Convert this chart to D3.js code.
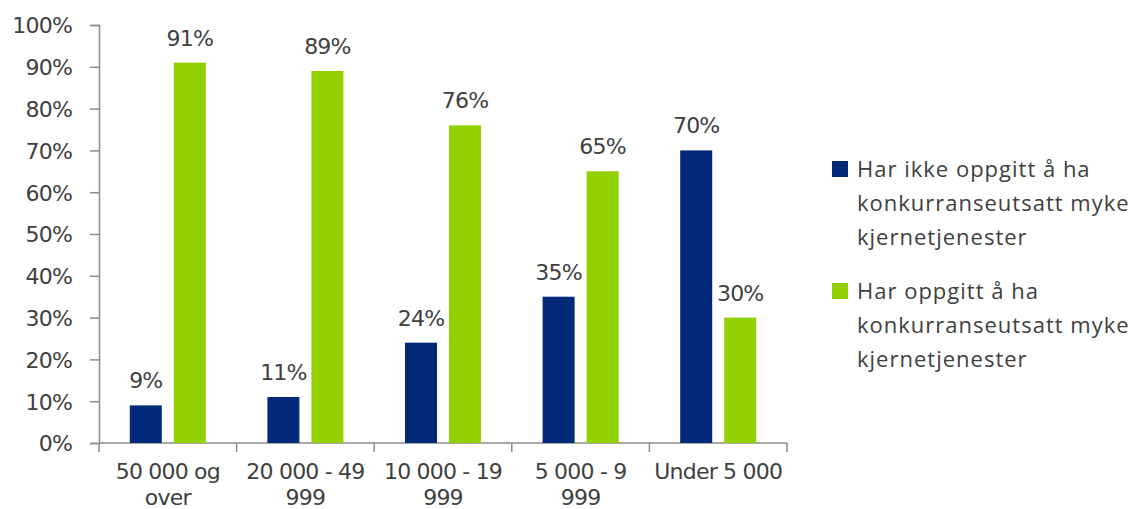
<!DOCTYPE html>
<html>
<head>
<meta charset="utf-8">
<script src="https://cdn.jsdelivr.net/npm/d3@7"></script>
<style>
  html, body { margin: 0; padding: 0; background: #fff; }
  #chart { width: 1141px; height: 509px; }
  .axis path, .axis line { stroke: #8c8c8c; stroke-width: 1.5; }
  .axis text { fill: #404040; font-family: "DejaVu Sans", Verdana, sans-serif; font-size: 22px; letter-spacing: -0.8px; }
  .val { fill: #404040; font-family: "DejaVu Sans", Verdana, sans-serif; font-size: 22px; letter-spacing: -0.8px; }
  .leg { fill: #404040; font-family: "Open Sans", "Liberation Sans", sans-serif; font-size: 22px; letter-spacing: 1px; }
</style>
</head>
<body>
<div id="chart"></div>
<script>
// kategorier og verdier (lest av bildet)
const categories = [["50 000 og", "over"], ["20 000 - 49", "999"], ["10 000 - 19", "999"], ["5 000 - 9", "999"], ["Under 5 000"]];
const seriesNames = [
  ["Har ikke oppgitt å ha", "konkurranseutsatt myke", "kjernetjenester"],
  ["Har oppgitt å ha", "konkurranseutsatt myke", "kjernetjenester"]
];
const notStated = [9, 11, 24, 35, 70];
const stated = [91, 89, 76, 65, 30];
const yTicks = [0, 10, 20, 30, 40, 50, 60, 70, 80, 90, 100];
const colors = ["#002a78", "#92d000"];

(() => {
  const W = 1141, H = 509;
  const margin = { top: 25, left: 99, right: 354, bottom: 66 };
  const width = W - margin.left - margin.right;
  const height = H - margin.top - margin.bottom;

  const svg = d3.select("#chart").append("svg")
    .attr("width", W).attr("height", H)
    .append("g")
    .attr("transform", `translate(${margin.left},${margin.top})`);

  const x = d3.scaleBand().domain(d3.range(categories.length)).range([0, width]).padding(0);
  const y = d3.scaleLinear().domain([0, 100]).range([height, 0]);

  const barW = 32, gap = 12;
  const groupW = barW * 2 + gap;

  // akser
  const yAxis = svg.append("g").attr("class", "axis")
    .call(d3.axisLeft(y).tickValues(yTicks).tickSize(9).tickPadding(18).tickFormat(d => d + "%"));
  yAxis.selectAll("text").attr("dy", "0.36em");

  const xAxis = svg.append("g").attr("class", "axis")
    .attr("transform", `translate(0,${height})`)
    .call(d3.axisBottom(x).tickSize(0).tickFormat(""));
  // ticks mellom kategorier
  xAxis.selectAll(".sep").data(d3.range(categories.length + 1)).join("line")
    .attr("class", "sep")
    .attr("x1", i => i * x.bandwidth()).attr("x2", i => i * x.bandwidth())
    .attr("y1", 0).attr("y2", 9);
  xAxis.select(".domain").attr("d", `M0,0H${width}`);

  // kategori-etiketter (to linjer)
  const lab = svg.append("g");
  categories.forEach((lines, i) => {
    const t = lab.append("text").attr("class", "val")
      .attr("text-anchor", "middle")
      .attr("x", x(i) + x.bandwidth() / 2)
      .attr("y", height + 36);
    lines.forEach((s, k) => t.append("tspan")
      .attr("x", x(i) + x.bandwidth() / 2)
      .attr("dy", k === 0 ? 0 : 26)
      .text(s));
  });

  // stolper
  [notStated, stated].forEach((vals, s) => {
    const g = svg.append("g");
    const bx = i => x(i) + (x.bandwidth() - groupW) / 2 + s * (barW + gap);
    g.selectAll("rect").data(vals).join("rect")
      .attr("x", (d, i) => bx(i))
      .attr("y", d => y(d))
      .attr("width", barW)
      .attr("height", d => height - y(d))
      .attr("fill", colors[s]);
    g.selectAll("text").data(vals).join("text")
      .attr("class", "val")
      .attr("text-anchor", "middle")
      .attr("x", (d, i) => bx(i) + barW / 2)
      .attr("y", d => y(d) - 17)
      .text(d => d + "%");
  });

  // forklaring
  const leg = d3.select("#chart svg").append("g").attr("transform", "translate(832,0)");
  const legY = [161, 283];
  seriesNames.forEach((lines, s) => {
    leg.append("rect").attr("x", 0).attr("y", legY[s]).attr("width", 16).attr("height", 16).attr("fill", colors[s]);
    const t = leg.append("text").attr("class", "leg").attr("x", 25).attr("y", legY[s] + 16);
    lines.forEach((str, k) => t.append("tspan").attr("x", 25).attr("dy", k === 0 ? 0 : 34).text(str));
  });
})();
</script>
</body>
</html>
